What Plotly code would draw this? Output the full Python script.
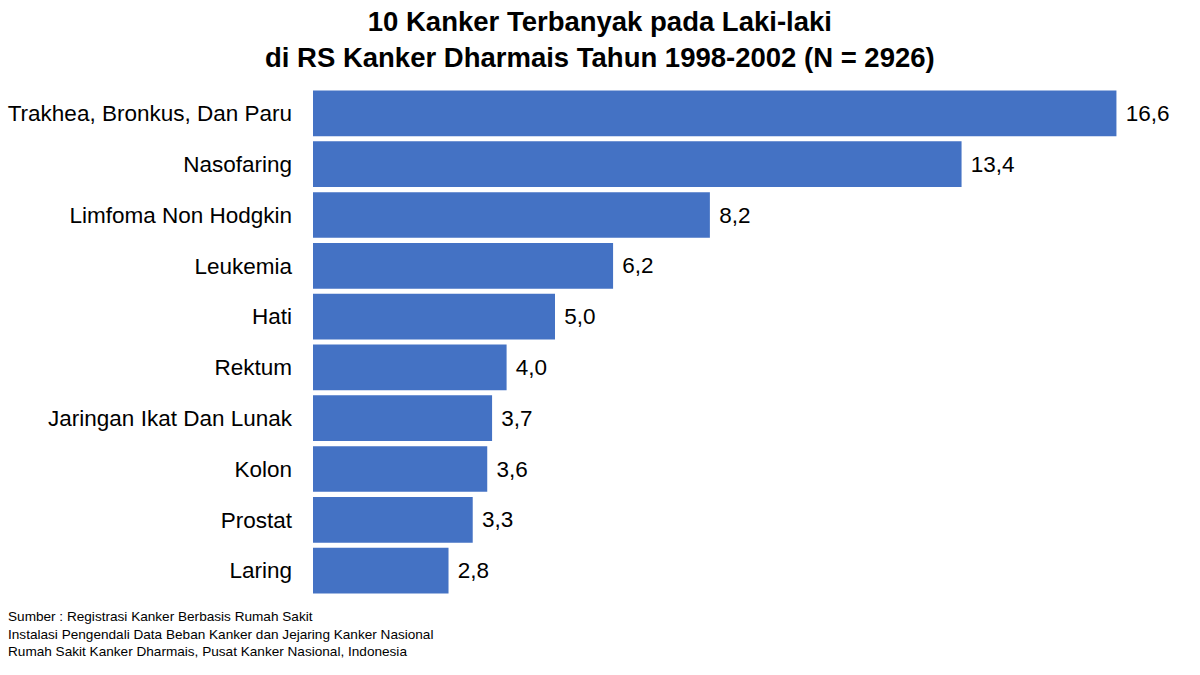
import plotly.graph_objects as go

categories = ["Trakhea, Bronkus, Dan Paru", "Nasofaring", "Limfoma Non Hodgkin", "Leukemia",
              "Hati", "Rektum", "Jaringan Ikat Dan Lunak", "Kolon", "Prostat", "Laring"]
values = [16.6, 13.4, 8.2, 6.2, 5.0, 4.0, 3.7, 3.6, 3.3, 2.8]
labels = [" " + f"{v:.1f}".replace(".", ",") for v in values]

title_text = "<b>10 Kanker Terbanyak pada Laki-laki<br>di RS Kanker Dharmais Tahun 1998-2002 (N = 2926)</b>"
source_text = ("Sumber : Registrasi Kanker Berbasis Rumah Sakit<br>"
               "Instalasi Pengendali Data Beban Kanker dan Jejaring Kanker Nasional<br>"
               "Rumah Sakit Kanker Dharmais, Pusat Kanker Nasional, Indonesia")

L, R, T, B = 313, 40, 88, 79
PW, PH = 1200 - L - R, 675 - T - B

fig = go.Figure(go.Bar(
    x=values, y=categories, orientation="h",
    marker=dict(color="#4472C4", line=dict(width=0)),
    text=labels, textposition="outside", cliponaxis=False,
    textfont=dict(size=22.5, color="#000000", family="Liberation Sans, Arial"),
))

fig.update_layout(
    width=1200, height=675,
    margin=dict(l=L, r=R, t=T, b=B, autoexpand=False),
    paper_bgcolor="white", plot_bgcolor="white",
    bargap=0.1,
    font=dict(family="Liberation Sans, Arial", color="#000000"),
    xaxis=dict(range=[0, 17.5], visible=False, automargin=False),
    yaxis=dict(autorange="reversed", tickfont=dict(size=22.5, color="#000000"),
               ticks="", ticklabelstandoff=20, showgrid=False, showline=False,
               automargin=False),
    showlegend=False,
    annotations=[
        dict(text=title_text, xref="paper", yref="paper",
             x=(600 - L) / PW, y=1 + (T - 39.5) / PH, xanchor="center", yanchor="middle",
             align="center", showarrow=False, font=dict(size=27.5, color="#000000")),
        dict(text=source_text, xref="paper", yref="paper",
             x=(6 - L) / PW, y=-0.022, xanchor="left", yanchor="top",
             align="left", showarrow=False, font=dict(size=13.6, color="#000000")),
    ],
)
fig.write_html("out.html", config={"displayModeBar": False},
               post_script="document.body.style.margin='0px';")
